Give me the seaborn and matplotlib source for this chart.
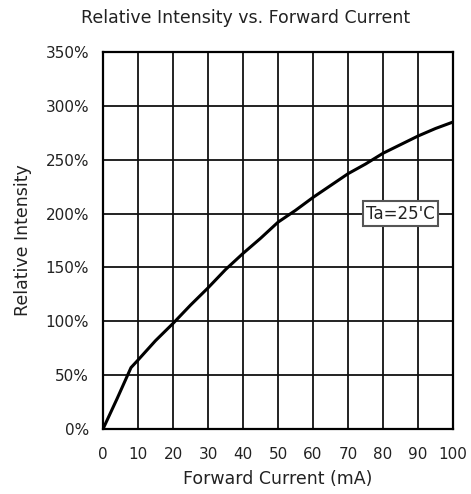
import matplotlib
matplotlib.use("Agg")
import matplotlib.pyplot as plt
import seaborn as sns
import pandas as pd

current_ma = [0, 4, 8, 10, 15, 20, 25, 30, 35, 40, 45, 50, 55, 60, 65, 70, 75, 80, 85, 90, 95, 100]
intensity_pct = [0, 28, 57, 64, 82, 98, 115, 131, 148, 163, 177, 192, 203, 215, 226, 237, 246, 256, 264, 272, 279, 285]
x_ticks = list(range(0, 101, 10))
y_ticks = list(range(0, 351, 50))
y_tick_labels = [f"{v}%" for v in y_ticks]

sns.set_theme(style="white")
plt.rcParams['font.family'] = ['DejaVu Sans']

df = pd.DataFrame({"current": current_ma, "intensity": intensity_pct})

fig = plt.figure(figsize=(4.71, 4.94), dpi=100)
ax = fig.add_axes([0.2187, 0.1316, 0.7431, 0.7631])
sns.lineplot(data=df, x="current", y="intensity", ax=ax, color="black", linewidth=2.2)

ax.set_xlim(0, 100)
ax.set_ylim(0, 350)
ax.set_xticks(x_ticks)
ax.set_yticks(y_ticks)
ax.set_yticklabels(y_tick_labels)
ax.grid(True, color="#111111", linewidth=1.3)
ax.set_axisbelow(True)
for s in ax.spines.values():
    s.set_color("black")
    s.set_linewidth(1.6)
ax.tick_params(axis="both", labelsize=11, colors="#222222", length=0)
ax.tick_params(axis="x", pad=13)
ax.tick_params(axis="y", pad=10)
ax.set_xlabel("Forward Current (mA)", fontsize=12.5, labelpad=6, color="#222222")
ax.set_ylabel("Relative Intensity", fontsize=12.5, labelpad=10, color="#222222")
ax.set_title("Relative Intensity vs. Forward Current", fontsize=12.5, pad=21, color="#222222", x=0.406)

ax.text(85, 200, "Ta=25'C", fontsize=12, ha="center", va="center", color="#222222",
        bbox=dict(boxstyle="square,pad=0.2", facecolor="white", edgecolor="#555555", linewidth=1.5))

fig.savefig("out.png", dpi=100)
